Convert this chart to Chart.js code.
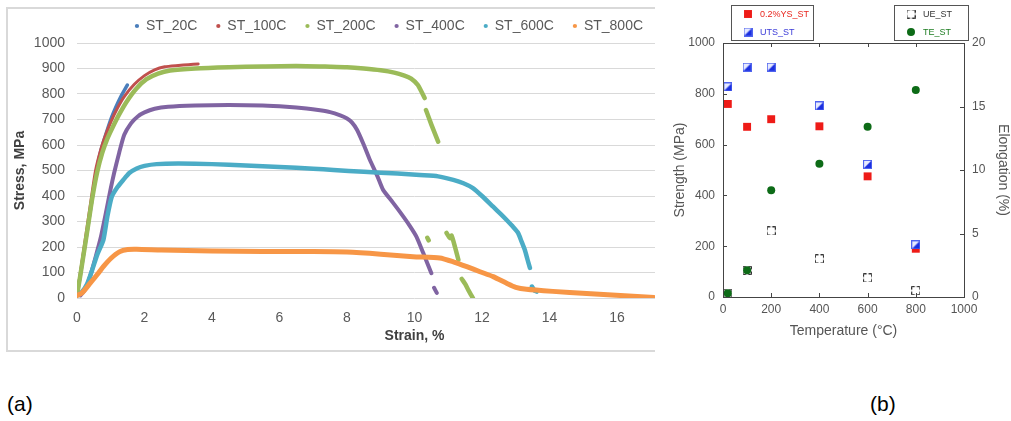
<!DOCTYPE html>
<html>
<head>
<meta charset="utf-8">
<script src="https://cdn.jsdelivr.net/npm/chart.js@4/dist/chart.umd.min.js"></script>
<style>
  html, body { margin: 0; padding: 0; background: #fff; }
  body { position: relative; width: 1011px; height: 421px; overflow: hidden; font-family: 'Liberation Sans', Arial, sans-serif; }
  #panelA { position: absolute; left: 6px; top: 7px; width: 649px; height: 345px; box-sizing: border-box;
            border: 2px solid #d9d9d9; border-right: none; overflow: hidden; }
  #chartA { position: absolute; left: 0; top: 0; width: 776px; height: 341px; }
  #chartB { position: absolute; left: 660px; top: 0; width: 351px; height: 350px; }
  .tag { position: absolute; top: 392px; font-size: 21px; color: #000; line-height: 24px; }
</style>
</head>
<body>
<div id="panelA"><canvas id="chartA" width="776" height="341"></canvas></div>
<canvas id="chartB" width="351" height="350"></canvas>
<div class="tag" style="left:7px">(a)</div>
<div class="tag" style="left:870px">(b)</div>
<script>
// ---- (a) engineering stress-strain curves, strain in %, stress in MPa ----
const strain20C  = [0, 0.1, 0.2, 0.3, 0.45, 0.58, 0.7, 0.85, 1.0, 1.15, 1.3, 1.49];
const stress20C  = [10, 90, 175, 260, 390, 500, 575, 640, 700, 748, 790, 835];

const strain100C = [0, 0.1, 0.2, 0.3, 0.4, 0.55, 0.7, 0.85, 1.0, 1.2, 1.4, 1.7, 2.0, 2.3, 2.6, 3.0, 3.3, 3.59];
const stress100C = [10, 100, 190, 280, 370, 500, 580, 640, 690, 745, 790, 838, 872, 895, 907, 912, 915, 918];

const strain200C = [0, 0.1, 0.2, 0.3, 0.45, 0.6, 0.75, 0.9, 1.05, 1.25, 1.47, 1.75, 2.06, 2.4, 2.76, 3.5, 4.5, 5.5, 6.5, 7.5, 8.0, 8.5, 9.0, 9.4, 9.7, 9.9, 10.1, 10.3,
                    10.3, 10.34, 10.5, 10.7, 10.7, 10.38, 10.42, 10.42, 10.95, 11.05, 11.1, 11.2, 11.3, 11.3, 11.4, 11.5, 11.6, 11.73];
const stress200C = [10, 90, 175, 260, 390, 495, 570, 625, 668, 720, 770, 820, 858, 880, 892, 900, 905, 908, 910, 907, 905, 900, 893, 884, 872, 860, 835, 784,
                    null, 737, 680, 613, null, 236, 226, null, 255, 235, 245, 200, 150, null, 75, 55, 30, 0];

const strain400C = [0.1, 0.25, 0.4, 0.55, 0.7, 0.85, 1.0, 1.1, 1.25, 1.4, 1.6, 1.8, 2.0, 2.3, 2.7, 3.5, 4.5, 5.5, 6.2, 6.8, 7.2, 7.5, 7.8, 8.0, 8.15, 8.3, 8.5, 8.68, 8.9, 9.07, 9.35, 9.6, 9.85, 10.06, 10.26, 10.5,
                    10.5, 10.58, 10.66];
const stress400C = [10, 35, 90, 160, 235, 330, 430, 490, 570, 640, 685, 712, 728, 742, 750, 755, 757, 755, 750, 743, 736, 729, 716, 704, 688, 659, 600, 541, 478, 424, 376, 332, 285, 240, 176, 97,
                    null, 40, 20];

const strain600C = [0, 0.15, 0.3, 0.45, 0.6, 0.78, 0.9, 1.03, 1.2, 1.37, 1.55, 1.77, 2.0, 2.36, 3.0, 4.0, 5.0, 6.0, 7.0, 7.6, 8.5, 9.5, 10.16, 10.7, 11.15, 11.45, 11.73, 12.0, 12.33, 12.55, 12.73, 12.9, 13.07, 13.17, 13.27, 13.35, 13.42,
                    13.42, 13.48, 13.55, 13.62];
const stress600C = [10, 25, 55, 110, 170, 227, 320, 397, 435, 463, 490, 508, 518, 525, 527, 525, 520, 514, 507, 502, 495, 488, 482, 477, 463, 450, 431, 400, 358, 330, 306, 282, 255, 222, 188, 150, 118,
                    null, 45, 30, 25];

const strain800C = [0, 0.15, 0.39, 0.6, 0.78, 1.0, 1.27, 1.5, 1.77, 2.5, 4.0, 5.5, 7.0, 8.0, 9.0, 9.96, 10.75, 11.15, 11.55, 11.94, 12.33, 12.73, 13.0, 13.32, 14.1, 15.1, 16.1, 17.1];
const stress800C = [10, 20, 58, 92, 123, 155, 182, 190, 191, 188, 184, 182, 182, 180, 172, 162, 157, 142, 123, 103, 84, 58, 42, 34, 26, 18, 10, 2];

const seriesNamesA  = ['ST_20C', 'ST_100C', 'ST_200C', 'ST_400C', 'ST_600C', 'ST_800C'];
const seriesColorsA = ['#4a7ebb', '#c0504d', '#9bbb59', '#8064a2', '#4bacc6', '#f79646'];
const strainAxis = { min: 0, max: 20, step: 2 };
const stressAxis = { min: 0, max: 1000, step: 100 };

// ---- (b) tensile properties vs. test temperature ----
const tempC   = [20, 100, 200, 400, 600, 800];
const ys02    = [760, 670, 700, 672, 475, 190];   // 0.2% yield strength, MPa
const uts     = [827, 905, 905, 752, 522, 205];   // ultimate tensile strength, MPa
const ueElong = [0.3, 2.1, 5.2, 3.0, 1.5, 0.5];   // uniform elongation, %
const teElong = [0.3, 2.1, 8.4, 10.5, 13.4, 16.3];// total elongation, %
const tempAxis     = { min: 0, max: 1000, step: 200 };
const strengthAxis = { min: 0, max: 1000, step: 200 };
const elongAxis    = { min: 0, max: 20, step: 5 };

const FONT = "'Liberation Sans', Arial, sans-serif";
Chart.defaults.font.family = FONT;
const plainNumbers = { useGrouping: false };

const toPoints = (xs, ys) => xs.map((x, i) => ({ x: x, y: ys[i] }));

// ----------------------------- chart (a) -----------------------------
const curves = [
  [strain20C, stress20C, 3.5], [strain100C, stress100C, 3], [strain200C, stress200C, 4.5],
  [strain400C, stress400C, 4], [strain600C, stress600C, 4.5], [strain800C, stress800C, 5]
];
const datasetsA = curves.map((c, i) => ({
  label: seriesNamesA[i],
  data: toPoints(c[0], c[1]),
  showLine: true,
  spanGaps: false,
  borderColor: seriesColorsA[i],
  backgroundColor: seriesColorsA[i],
  borderWidth: c[2],
  borderCapStyle: 'round',
  borderJoinStyle: 'round',
  tension: 0.2,
  pointRadius: 0,
  pointStyle: 'circle',
  order: curves.length - i
}));

// moves the legend row sideways after layout
const legendShift = {
  id: 'legendShift',
  afterLayout(chart, args, opts) {
    if (chart.legend) { chart.legend.left += opts.dx; chart.legend.right += opts.dx; }
  }
};

new Chart(document.getElementById('chartA'), {
  type: 'scatter',
  data: { datasets: datasetsA },
  plugins: [legendShift],
  options: {
    responsive: false,
    animation: false,
    events: [],
    layout: { padding: { top: -9, right: 32, bottom: 0, left: 0 } },
    plugins: {
      tooltip: { enabled: false },
      legendShift: { dx: 9 },
      legend: {
        position: 'top',
        labels: {
          usePointStyle: true,
          boxWidth: 4,
          boxHeight: 3,
          padding: 19,
          color: '#595959',
          font: { size: 14, family: FONT },
          sort: (a, b) => a.datasetIndex - b.datasetIndex,
          generateLabels(chart) {
            const items = Chart.defaults.plugins.legend.labels.generateLabels(chart);
            items.forEach(it => { it.lineWidth = 0; });
            return items;
          }
        }
      }
    },
    scales: {
      x: {
        type: 'linear',
        min: strainAxis.min, max: strainAxis.max,
        ticks: { stepSize: strainAxis.step, padding: 12, color: '#595959', font: { size: 14 }, format: plainNumbers },
        grid: { display: false, drawTicks: false },
        border: { display: false },
        title: { display: true, text: 'Strain, %', color: '#404040', font: { size: 14, weight: 'bold' }, padding: { top: 0, bottom: 5 } },
        afterFit(s) { s.height = 52; }
      },
      y: {
        min: stressAxis.min, max: stressAxis.max,
        ticks: { stepSize: stressAxis.step, padding: 12, color: '#595959', font: { size: 14 }, format: plainNumbers },
        grid: { color: '#d9d9d9', lineWidth: 1, drawTicks: false },
        border: { display: false },
        title: { display: true, text: 'Stress, MPa', color: '#404040', font: { size: 14, weight: 'bold' }, padding: { top: 4, bottom: 0 } },
        afterFit(s) { s.width = 69; }
      }
    }
  }
});

// ----------------------------- chart (b) -----------------------------
function halfFilledSquare(size) {
  const c = document.createElement('canvas');
  c.width = c.height = size;
  const g = c.getContext('2d');
  g.fillStyle = '#e6eaff';
  g.fillRect(0, 0, size, size);
  g.fillStyle = '#1b2fe0';
  g.beginPath(); g.moveTo(size, 0); g.lineTo(size, size); g.lineTo(0, size); g.closePath(); g.fill();
  g.strokeStyle = '#4f63ee';
  g.lineWidth = 1;
  g.strokeRect(0.5, 0.5, size - 1, size - 1);
  return c;
}
function openSquare(size) {
  const c = document.createElement('canvas');
  c.width = c.height = size;
  const g = c.getContext('2d');
  g.fillStyle = '#fff';
  g.fillRect(0, 0, size, size);
  g.strokeStyle = '#333';
  g.lineWidth = 1;
  const e = size - 0.5, arm = 3;
  g.beginPath();
  // corner brackets
  g.moveTo(0.5, arm + 0.5); g.lineTo(0.5, 0.5); g.lineTo(arm + 0.5, 0.5);
  g.moveTo(e - arm, 0.5); g.lineTo(e, 0.5); g.lineTo(e, arm + 0.5);
  g.moveTo(e, e - arm); g.lineTo(e, e); g.lineTo(e - arm, e);
  g.moveTo(arm + 0.5, e); g.lineTo(0.5, e); g.lineTo(0.5, e - arm);
  g.stroke();
  return c;
}

const datasetsB = [
  { label: '0.2%YS_ST', data: toPoints(tempC, ys02), yAxisID: 'y', pointStyle: 'rect', pointRadius: 5.6,
    backgroundColor: '#ee1b17', borderColor: '#ee1b17', borderWidth: 0, labelColor: '#e8261e', order: 4, clip: false },
  { label: 'UTS_ST', data: toPoints(tempC, uts), yAxisID: 'y', pointStyle: halfFilledSquare(9), pointRadius: 4.5,
    backgroundColor: '#1b2fe0', borderColor: '#4f63ee', borderWidth: 0, labelColor: '#3a3ad8', order: 3, clip: false },
  { label: 'UE_ST', data: toPoints(tempC, ueElong), yAxisID: 'y2', pointStyle: openSquare(9), pointRadius: 4.5,
    backgroundColor: '#fff', borderColor: '#333', borderWidth: 0, labelColor: '#333', order: 2, clip: false },
  { label: 'TE_ST', data: toPoints(tempC, teElong), yAxisID: 'y2', pointStyle: 'circle', pointRadius: 4,
    backgroundColor: '#0d6b17', borderColor: '#0d6b17', borderWidth: 0, labelColor: '#1e7d22', order: 1, clip: false }
];

// box frame with inward tick marks on all four sides
const frameTicks = {
  id: 'frameTicks',
  afterDatasetsDraw(chart) {
    const { ctx, chartArea: a, scales } = chart;
    const len = 4;
    ctx.save();
    ctx.strokeStyle = '#444';
    ctx.lineWidth = 1;
    ctx.strokeRect(Math.round(a.left) + 0.5, Math.round(a.top) + 0.5, Math.round(a.right - a.left), Math.round(a.bottom - a.top));
    ctx.beginPath();
    scales.x.ticks.forEach(t => {
      const p = Math.round(scales.x.getPixelForValue(t.value)) + 0.5;
      ctx.moveTo(p, a.bottom); ctx.lineTo(p, a.bottom - len);
      ctx.moveTo(p, a.top); ctx.lineTo(p, a.top + len);
    });
    scales.y.ticks.forEach(t => {
      const p = Math.round(scales.y.getPixelForValue(t.value)) + 0.5;
      ctx.moveTo(a.left, p); ctx.lineTo(a.left + len, p);
    });
    scales.y2.ticks.forEach(t => {
      const p = Math.round(scales.y2.getPixelForValue(t.value)) + 0.5;
      ctx.moveTo(a.right, p); ctx.lineTo(a.right - len, p);
    });
    ctx.stroke();
    ctx.restore();
  }
};

// two framed legend boxes above the plot: strengths (left) and elongations (right)
const boxedLegends = {
  id: 'boxedLegends',
  afterDraw(chart) {
    const { ctx, chartArea: a } = chart;
    const groups = [
      { items: [0, 1], left: a.left + 8, width: 82 },
      { items: [2, 3], left: a.right + 4 - 74, width: 74 }
    ];
    const top = 5, height = 35;
    ctx.save();
    groups.forEach(gp => {
      ctx.strokeStyle = '#555';
      ctx.lineWidth = 1;
      ctx.strokeRect(Math.round(gp.left) + 0.5, top + 0.5, gp.width, height);
      gp.items.forEach((di, k) => {
        const ds = chart.data.datasets[di];
        const mx = Math.round(gp.left + 17), my = top + 9 + k * 18;
        const st = ds.pointStyle;
        if (typeof st === 'object') {
          ctx.drawImage(st, mx - st.width / 2, my - st.height / 2);
        } else if (st === 'rect') {
          const s = ds.pointRadius * Math.SQRT1_2;
          ctx.fillStyle = ds.backgroundColor;
          ctx.fillRect(mx - s, my - s, 2 * s, 2 * s);
        } else {
          ctx.fillStyle = ds.backgroundColor;
          ctx.beginPath(); ctx.arc(mx, my, ds.pointRadius, 0, Math.PI * 2); ctx.fill();
        }
        ctx.fillStyle = ds.labelColor;
        ctx.font = '9px ' + FONT;
        ctx.textBaseline = 'middle';
        ctx.textAlign = 'left';
        ctx.fillText(ds.label, mx + 12, my + 0.5);
      });
    });
    ctx.restore();
  }
};

new Chart(document.getElementById('chartB'), {
  type: 'scatter',
  data: { datasets: datasetsB },
  plugins: [frameTicks, boxedLegends],
  options: {
    responsive: false,
    animation: false,
    events: [],
    layout: { padding: { top: 43, right: 0, bottom: 8, left: 0 } },
    plugins: { legend: { display: false }, tooltip: { enabled: false } },
    scales: {
      x: {
        type: 'linear',
        min: tempAxis.min, max: tempAxis.max,
        ticks: { stepSize: tempAxis.step, padding: 5, color: '#555', font: { size: 12 }, format: plainNumbers },
        grid: { display: false, drawTicks: false },
        border: { display: false },
        title: { display: true, text: 'Temperature (°C)', color: '#555', font: { size: 14 }, padding: { top: 0, bottom: 2 } },
        afterFit(s) { s.height = 45; }
      },
      y: {
        position: 'left',
        min: strengthAxis.min, max: strengthAxis.max,
        ticks: { stepSize: strengthAxis.step, padding: 8, color: '#555', font: { size: 12 }, format: plainNumbers },
        grid: { display: false, drawTicks: false },
        border: { display: false },
        title: { display: true, text: 'Strength (MPa)', color: '#555', font: { size: 14 }, padding: { top: 11.5, bottom: 0 } },
        afterFit(s) { s.width = 63; }
      },
      y2: {
        position: 'right',
        min: elongAxis.min, max: elongAxis.max,
        ticks: { stepSize: elongAxis.step, padding: 8, color: '#555', font: { size: 12 }, format: plainNumbers },
        grid: { display: false, drawTicks: false },
        border: { display: false },
        title: { display: true, text: 'Elongation (%)', color: '#555', font: { size: 14 }, padding: { top: 0, bottom: 0 } },
        afterFit(s) { s.width = 47; }
      }
    }
  }
});
</script>
</body>
</html>
